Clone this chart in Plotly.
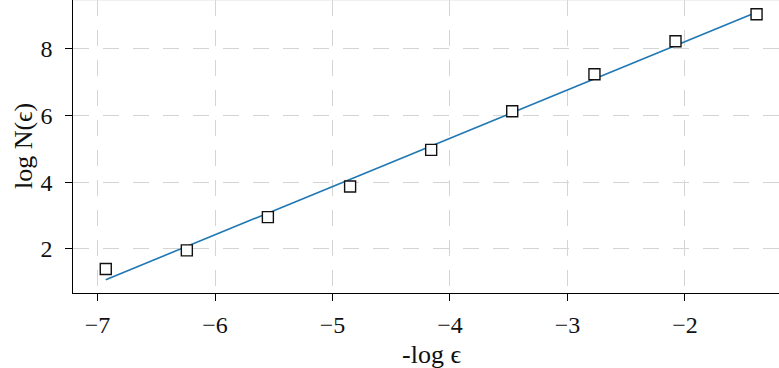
import plotly.graph_objects as go

# data
neg_log_eps = [-6.93, -6.24, -5.55, -4.85, -4.16, -3.47, -2.77, -2.08, -1.39]
log_n = [1.39, 1.95, 2.95, 3.87, 4.97, 6.13, 7.24, 8.23, 9.04]
fit_x = [-6.93, -1.39]
fit_y = [1.07, 9.10]
x_ticks = [-7, -6, -5, -4, -3, -2]
y_ticks = [2, 4, 6, 8]

FONT = "Liberation Serif"

fig = go.Figure()
fig.add_trace(go.Scatter(
    x=fit_x, y=fit_y, mode="lines",
    line=dict(color="#1f77b4", width=1.6),
    showlegend=False, hoverinfo="skip"))
fig.add_trace(go.Scatter(
    x=neg_log_eps, y=log_n, mode="markers",
    marker=dict(symbol="square", size=11, color="white",
                line=dict(color="#111111", width=1.4)),
    showlegend=False))

axis_common = dict(
    showline=True, linecolor="black", linewidth=1.3,
    ticks="outside", ticklen=6.5, tickwidth=1.2, tickcolor="black",
    showgrid=True, gridcolor="#d4d4d4", gridwidth=1.1, griddash="16px,14px",
    zeroline=False,
    tickfont=dict(family=FONT, size=24, color="#111111"),
)

fig.update_xaxes(range=[-7.209, -1.199], tickvals=x_ticks, ticklabelstandoff=4,
                 **axis_common)
fig.update_yaxes(range=[0.67, 9.47], tickvals=y_ticks, ticklabelstandoff=8,
                 **axis_common)

fig.add_annotation(text="-log ϵ", x=-4.159, xref="x", y=-0.21, yref="paper",
                   yanchor="middle", xanchor="center", showarrow=False,
                   font=dict(family=FONT, size=26, color="#111111"))
fig.add_annotation(text="log N(ϵ)", x=-0.07, xref="paper", y=0.5, yref="paper",
                   textangle=-90, xanchor="center", yanchor="middle", showarrow=False,
                   font=dict(family=FONT, size=26, color="#111111"))

fig.add_shape(type="line", xref="paper", yref="paper", x0=0, x1=1, y0=1, y1=1,
              line=dict(color="#e2e2e2", width=1))

fig.update_layout(
    width=779, height=368,
    margin=dict(l=73, r=0, t=0, b=75, pad=0),
    plot_bgcolor="white", paper_bgcolor="white",
)

fig.write_html("out.html", config={"displayModeBar": False},
               post_script="document.body.style.margin='0px';")
